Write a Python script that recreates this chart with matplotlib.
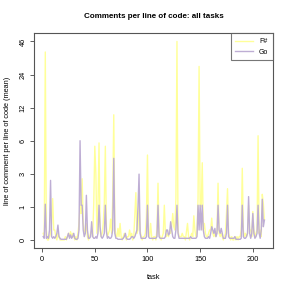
import numpy as np
import matplotlib
matplotlib.use("Agg")
import matplotlib.pyplot as plt

plt.rcParams['font.family'] = ['Liberation Sans', 'DejaVu Sans']

# mean comments per line of code, tasks 1..211
fsharp = [
    0.2, 0.1, 39, 0.3, 0, 0, 0.1, 0.2, 0.5, 1.5,
    0.3, 0.3, 0.1, 0, 0.2, 0.1, 0, 0, 0, 0,
    0, 0.1, 0, 0.1, 0.2, 0.1, 0.25, 0.1, 0.2, 0.1,
    0, 0.1, 0, 0.2, 0.5, 1.1, 0.8, 2.7, 0.5, 0.3,
    0.2, 0.5, 0.1, 0, 0.1, 0.2, 0.3, 0.1, 1.2, 5.5,
    3, 0.2, 1.0, 5.8, 0.3, 0.1, 0.2, 0.5, 1.2, 5.5,
    0.4, 0.1, 0.2, 0.3, 0.63, 0.2, 1.5, 10.7, 0.4, 0.1,
    0.1, 0.35, 0.1, 0.5, 0.1, 0, 0.1, 0.2, 0.1, 0,
    0.1, 0.1, 0.3, 0.1, 0.2, 0, 0.1, 0.8, 1.86, 0.2,
    0.3, 1.2, 0.3, 0.1, 0, 0.1, 0.1, 0.2, 0.7, 4.7,
    0.2, 0.1, 0.5, 0.1, 0, 0.1, 0.1, 0, 0.3, 2.43,
    0.2, 0.1, 0, 0.1, 0.2, 1.1, 0.2, 0.1, 0.2, 0.1,
    0.3, 0.2, 0.4, 0.8, 0.4, 0.3, 1.5, 46, 0.3, 0.1,
    0.1, 0.1, 0.2, 0.1, 0.1, 0, 0.25, 0.5, 0.1, 0,
    0.1, 0.2, 0.1, 0.73, 0.3, 0.1, 0.2, 1.5, 29.4, 1.1,
    1.0, 4.0, 0.3, 0.5, 0.2, 0.1, 0.1, 0.2, 0.3, 0.3,
    0.66, 0.2, 0.1, 0.2, 0.1, 0.3, 2.43, 0.2, 0.1, 0.2,
    0.1, 0, 0.1, 0.2, 0.8, 2.1, 0.2, 0.1, 0, 0.1,
    0, 0, 0.1, 0, 0.1, 0, 0.1, 0.1, 0.3, 3.5,
    0.3, 0.1, 0.2, 0.1, 0.2, 1.1, 0.3, 0.3, 0.1, 0.86,
    0.3, 0.1, 0.2, 0.3, 6.9, 0.2, 0.3, 0.1, 1.76, 1.2,
    0.6,
]
go = [
    0.1, 0.05, 1.16, 0.05, 0.1, 0.05, 0.3, 2.6, 0.1, 0.05,
    0.1, 0.05, 0.1, 0.2, 0.45, 0.1, 0.05, 0.02, 0.02, 0.02,
    0.02, 0.02, 0.02, 0.1, 0.2, 0.05, 0.15, 0.05, 0.1, 0.2,
    0.05, 0.02, 0.02, 0.05, 0.3, 6.0, 1.1, 1.1, 0.3, 0.1,
    0.2, 1.7, 0.3, 0.05, 0.05, 0.1, 0.55, 0.1, 0.05, 0.05,
    0.1, 0.05, 0.2, 1.1, 0.4, 0.1, 0.05, 0.1, 0.2, 1.1,
    0.25, 0.05, 0.1, 0.05, 0.05, 0.1, 0.3, 4.4, 0.2, 0.05,
    0.05, 0.02, 0.02, 0.02, 0.02, 0.02, 0.05, 0.1, 0.2, 0.05,
    0.02, 0.02, 0.02, 0.05, 0.1, 0.1, 0.05, 0.1, 0.2, 0.3,
    1.0, 2.98, 0.2, 0.05, 0.05, 0.05, 0.05, 0.05, 0.1, 1.1,
    0.1, 0.05, 0.05, 0.05, 0.05, 0.05, 0.05, 0.05, 0.1, 1.1,
    0.1, 0.05, 0.05, 0.05, 0.05, 0.05, 0.1, 0.3, 0.3, 0.15,
    0.2, 0.55, 0.3, 0.1, 0.05, 0.05, 0.3, 1.1, 0.2, 0.05,
    0.05, 0.05, 0.05, 0.05, 0.05, 0.05, 0.05, 0.05, 0.05, 0.05,
    0.1, 0.05, 0.05, 0.05, 0.05, 0.05, 0.1, 1.1, 0.3, 1.1,
    0.3, 1.1, 0.3, 0.1, 0.05, 0.05, 0.05, 0.1, 0.05, 0.2,
    0.4, 0.3, 0.2, 0.35, 0.1, 0.2, 1.1, 0.3, 0.2, 0.35,
    0.2, 0.05, 0.05, 0.05, 0.2, 1.1, 0.1, 0.05, 0.05, 0.05,
    0.05, 0.05, 0.1, 0.02, 0.02, 0.02, 0.02, 0.02, 0.05, 1.1,
    0.1, 0.05, 0.05, 0.1, 0.2, 1.62, 0.2, 0.05, 0.2, 0.8,
    0.2, 0.05, 0.1, 0.2, 1.1, 0.2, 0.05, 0.3, 1.46, 0.4,
    0.6,
]
tasks = np.arange(1, len(fsharp) + 1)

ytick_vals = [0, 1, 3, 6, 12, 24, 46]
xtick_vals = [0, 50, 100, 150, 200]

# axis spaced so the tick values sit evenly
_knots = np.array([-10] + ytick_vals + [200], dtype=float)
_pos = np.array([-10, 0, 1, 2, 3, 4, 5, 6, 6 + 154 / 22.0])


def fwd(v):
    return np.interp(v, _knots, _pos)


def inv(p):
    return np.interp(p, _pos, _knots)


fig = plt.figure(figsize=(2.91, 2.91), dpi=100)
ax = fig.add_axes([0.118, 0.147, 0.821, 0.739])

ax.plot(tasks, fsharp, color='#FFFF99', lw=1.0, label='F#')
ax.plot(tasks, go, color='#BEAED4', lw=1.0, label='Go')

ax.set_yscale('function', functions=(fwd, inv))
ax.set_ylim(inv(-0.25), inv(6.25))
ax.set_xlim(-7.4, 219.4)

ax.set_yticks(ytick_vals)
ax.set_yticklabels([str(v) for v in ytick_vals], rotation=90, va='center')
ax.set_xticks(xtick_vals)
ax.minorticks_off()
ax.tick_params(labelsize=5.3, length=3, width=0.6, color='#444444', pad=2.5)

for s in ax.spines.values():
    s.set_color('#555555')
    s.set_linewidth(0.8)

ax.set_title('Comments per line of code: all tasks', fontsize=5.8,
             fontweight='bold', pad=11)
ax.set_xlabel('task', fontsize=5.3, labelpad=8)
ax.set_ylabel('line of comment per line of code (mean)', fontsize=5.3, labelpad=6)

leg = ax.legend(loc='upper right', fontsize=5.0, frameon=True, fancybox=False,
                borderaxespad=0, handlelength=2.6, handletextpad=0.8,
                borderpad=0.7, labelspacing=0.5)
leg.get_frame().set_edgecolor('#555555')
leg.get_frame().set_linewidth(0.8)

fig.savefig('out.png', dpi=100)
